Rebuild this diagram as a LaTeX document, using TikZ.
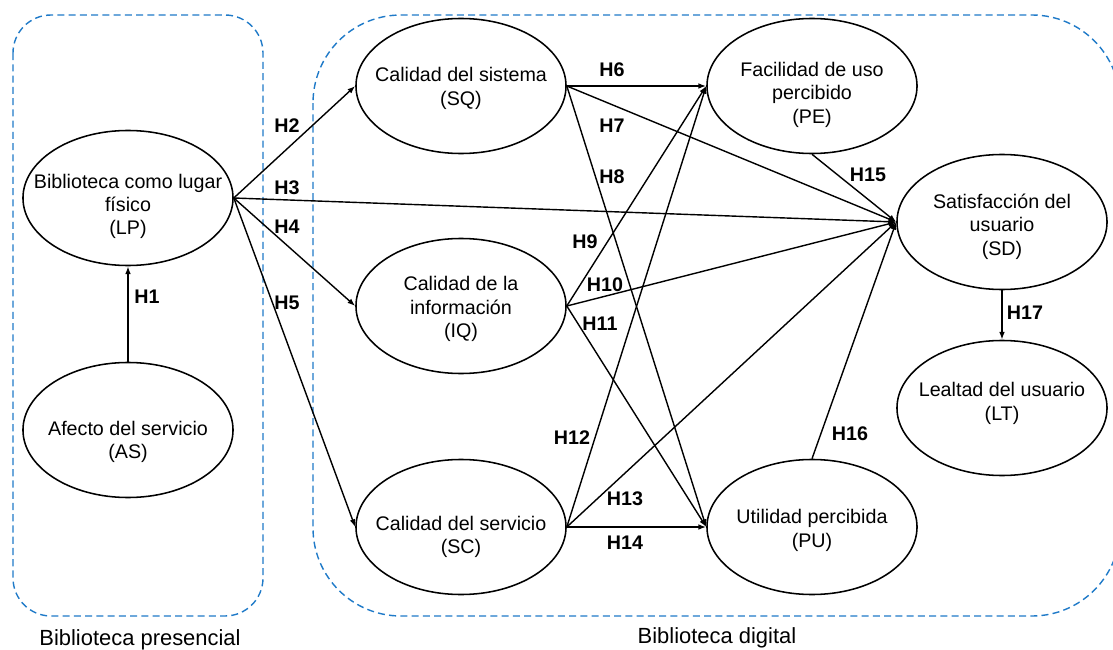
\documentclass[tikz,border=0pt]{standalone}
\usepackage{fontspec}
\setmainfont{Liberation Sans}
\usepackage{xcolor}
\usetikzlibrary{arrows.meta,positioning,shapes.geometric}
\definecolor{zoneblue}{RGB}{31,122,200}
\tikzset{
  latentNode/.style={ellipse, draw, line width=1.1pt, minimum width=5.25cm, minimum height=3.375cm, inner sep=0pt},
  latentText/.style={font=\fontsize{14}{16.7}\selectfont, align=center, inner sep=0pt},
  pathArrow/.style={-{Latex[length=5.5pt,width=4pt]}, line width=1pt},
  hypLabel/.style={font=\fontsize{14}{16}\selectfont\bfseries, inner sep=0pt},
  zoneBox/.style={draw=zoneblue, line width=1pt, dash pattern=on 5pt off 3pt},
  zoneLabel/.style={font=\fontsize{15.6}{18}\selectfont, inner sep=0pt}
}
\begin{document}
\begin{tikzpicture}[x=0.025cm, y=-0.025cm]
  \useasboundingbox (0,0) rectangle (1113,650);
  \draw[zoneBox, rounded corners=0.95cm] (13,15) rectangle (263,616);
  \draw[zoneBox, rounded corners=2.2cm] (313,15) rectangle (1120,616);
  \node[zoneLabel] (presencial) at (140,640) {Biblioteca presencial};
  \node[zoneLabel] (digital) at (717,638) {Biblioteca digital};
  \node[latentNode, label={[latentText, yshift=-0.21cm]center:{Biblioteca como lugar\\físico\\(LP)}}] (lp) at (128,198) {};
  \node[latentNode, label={[latentText, yshift=-0.3cm]center:{Afecto del servicio\\(AS)}}] (as) at (128,430) {};
  \node[latentNode, label={[latentText, yshift=-0.06cm]center:{Calidad del sistema\\(SQ)}}] (sq) at (461,86) {};
  \node[latentNode, label={[latentText, yshift=-0.08cm]center:{Calidad de la\\información\\(IQ)}}] (iq) at (461,306) {};
  \node[latentNode, label={[latentText, yshift=-0.25cm]center:{Calidad del servicio\\(SC)}}] (sc) at (461,527) {};
  \node[latentNode, label={[latentText, yshift=-0.22cm]center:{Facilidad de uso\\percibido\\(PE)}}] (pe) at (812,86) {};
  \node[latentNode, label={[latentText, yshift=-0.11cm]center:{Satisfacción del\\usuario\\(SD)}}] (sd) at (1002,222) {};
  \node[latentNode, label={[latentText, yshift=-0.08cm]center:{Utilidad percibida\\(PU)}}] (pu) at (812,527) {};
  \node[latentNode, label={[latentText, yshift=0.12cm]center:{Lealtad del usuario\\(LT)}}] (lt) at (1002,408) {};
  \draw[pathArrow] (as.north) -- (lp.south);
  \draw[pathArrow] (lp.east) -- (sq.west);
  \draw[pathArrow] (lp.east) -- (sd.west);
  \draw[pathArrow] (lp.east) -- (iq.west);
  \draw[pathArrow] (lp.east) -- (sc.west);
  \draw[pathArrow] (sq.east) -- (pe.west);
  \draw[pathArrow] (sq.east) -- (sd.west);
  \draw[pathArrow] (sq.east) -- (pu.west);
  \draw[pathArrow] (iq.east) -- (pe.west);
  \draw[pathArrow] (iq.east) -- (sd.west);
  \draw[pathArrow] (iq.east) -- (pu.west);
  \draw[pathArrow] (sc.east) -- (pe.west);
  \draw[pathArrow] (sc.east) -- (sd.west);
  \draw[pathArrow] (sc.east) -- (pu.west);
  \draw[pathArrow] (pe.south) -- (sd.west);
  \draw[pathArrow] (pu.north) -- (sd.west);
  \draw[pathArrow] (sd.south) -- (lt.north);
  \node[hypLabel] (h1) at (147,297) {H1};
  \node[hypLabel] (h2) at (287,126) {H2};
  \node[hypLabel] (h3) at (287,188) {H3};
  \node[hypLabel] (h4) at (287,227) {H4};
  \node[hypLabel] (h5) at (287,303) {H5};
  \node[hypLabel] (h6) at (612,70) {H6};
  \node[hypLabel] (h7) at (612,126) {H7};
  \node[hypLabel] (h8) at (612,177) {H8};
  \node[hypLabel] (h9) at (585,242) {H9};
  \node[hypLabel] (h10) at (605,285) {H10};
  \node[hypLabel] (h11) at (600,324) {H11};
  \node[hypLabel] (h12) at (572,438) {H12};
  \node[hypLabel] (h13) at (625,499) {H13};
  \node[hypLabel] (h14) at (625,543) {H14};
  \node[hypLabel] (h15) at (868,175) {H15};
  \node[hypLabel] (h16) at (850,434) {H16};
  \node[hypLabel] (h17) at (1025,313) {H17};
\end{tikzpicture}
\end{document}
